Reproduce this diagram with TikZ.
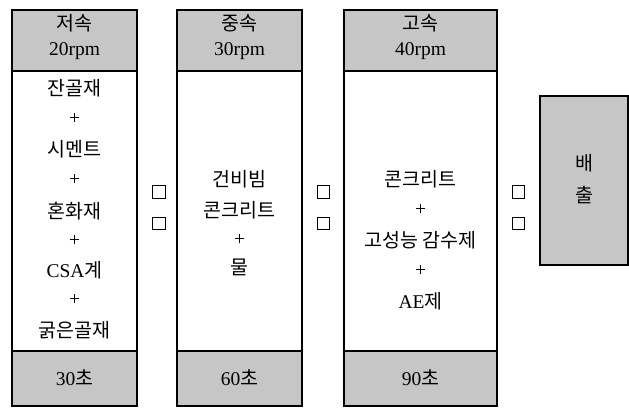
\documentclass[tikz,border=0pt]{standalone}
\usepackage{fontspec}
\setmainfont{Liberation Serif}
\newfontfamily\kr{Noto Sans CJK KR}
\tikzset{
  colbox/.style={draw, line width=1.3pt, inner sep=0, minimum width=#1},
  shade/.style={draw, line width=1.3pt, fill=gray!45, inner sep=0},
  sqbox/.style={draw, line width=0.9pt, minimum size=12.5pt, inner sep=0},
  lbl/.style={font=\fontsize{19.5}{21}\selectfont, inner sep=0},
}
\begin{document}
\begin{tikzpicture}[x=1pt,y=-1pt]
\useasboundingbox (0,0) rectangle (629,408);
% shaded headers and footers
\node[shade, minimum width=125pt, minimum height=61pt] (h1) at (74.5,40.5) {};
\node[shade, minimum width=125pt, minimum height=55pt] (f1) at (74.5,378.5) {};
\node[shade, minimum width=125pt, minimum height=61pt] (h2) at (239.5,40.5) {};
\node[shade, minimum width=125pt, minimum height=55pt] (f2) at (239.5,378.5) {};
\node[shade, minimum width=153pt, minimum height=61pt] (h3) at (420.5,40.5) {};
\node[shade, minimum width=153pt, minimum height=55pt] (f3) at (420.5,378.5) {};
\node[shade, minimum width=88pt, minimum height=169pt] (c4) at (584,180.5) {};
% column outlines
\node[colbox=125pt, minimum height=396pt] (c1) at (74.5,208) {};
\node[colbox=125pt, minimum height=396pt] (c2) at (239.5,208) {};
\node[colbox=153pt, minimum height=396pt] (c3) at (420.5,208) {};
% column 1 texts
\node[lbl] (t1a) at (74.5,23) {\kr 저속};
\node[lbl] (t1b) at (74.5,51) {20rpm};
\node[lbl] (t1c) at (74.5,88) {\kr 잔골재};
\node[lbl] (t1d) at (74.5,119) {+};
\node[lbl] (t1e) at (74.5,149) {\kr 시멘트};
\node[lbl] (t1f) at (74.5,180) {+};
\node[lbl] (t1g) at (74.5,211) {\kr 혼화재};
\node[lbl] (t1h) at (74.5,241) {+};
\node[lbl] (t1i) at (74.5,270) {CSA{\kr 계}};
\node[lbl] (t1j) at (74.5,300) {+};
\node[lbl] (t1k) at (74.5,330) {\kr 굵은골재};
\node[lbl] (t1l) at (74.5,378) {30{\kr 초}};
% column 2 texts
\node[lbl] (t2a) at (239.5,23) {\kr 중속};
\node[lbl] (t2b) at (239.5,51) {30rpm};
\node[lbl] (t2c) at (239.5,179) {\kr 건비빔};
\node[lbl] (t2d) at (239.5,210) {\kr 콘크리트};
\node[lbl] (t2e) at (239.5,240) {+};
\node[lbl] (t2f) at (239.5,267) {\kr 물};
\node[lbl] (t2g) at (239.5,378) {60{\kr 초}};
% column 3 texts
\node[lbl] (t3a) at (420.5,23) {\kr 고속};
\node[lbl] (t3b) at (420.5,51) {40rpm};
\node[lbl] (t3c) at (420.5,179) {\kr 콘크리트};
\node[lbl] (t3d) at (420.5,210) {+};
\node[lbl] (t3e) at (420.5,240) {\kr 고성능 감수제};
\node[lbl] (t3f) at (420.5,271) {+};
\node[lbl] (t3g) at (420.5,301) {AE{\kr 제}};
\node[lbl] (t3h) at (420.5,378) {90{\kr 초}};
% column 4 texts
\node[lbl] (t4a) at (584,163) {\kr 배};
\node[lbl] (t4b) at (584,195) {\kr 출};
% small squares
\node[sqbox] (s1a) at (159,192) {};
\node[sqbox] (s1b) at (159,223.5) {};
\node[sqbox] (s2a) at (323.5,192) {};
\node[sqbox] (s2b) at (323.5,223.5) {};
\node[sqbox] (s3a) at (518.5,192) {};
\node[sqbox] (s3b) at (518.5,223.5) {};
\end{tikzpicture}
\end{document}
